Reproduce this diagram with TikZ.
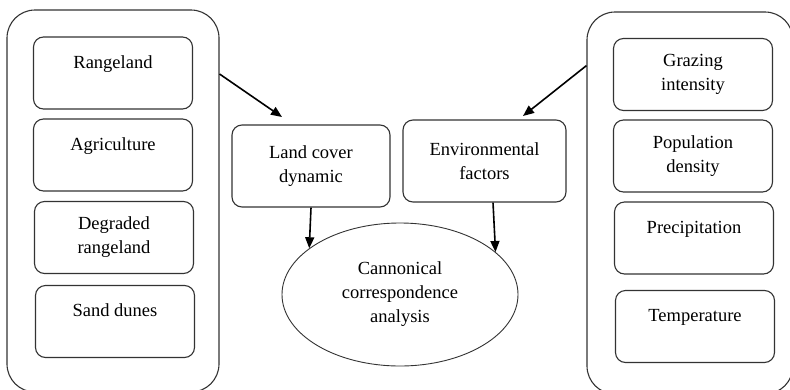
\documentclass[tikz,border=0pt]{standalone}
\usepackage{fontspec}
\setmainfont{Liberation Serif}
\usetikzlibrary{arrows.meta,shapes.geometric}

\tikzset{
	txt/.style={font=\fontsize{18.5pt}{24pt}\selectfont, align=center},
	box/.style={txt, draw=black!80, line width=1.1pt, rounded corners=10pt, inner sep=0pt, minimum width=159pt, minimum height=72pt},
	topbox/.style={box, text height=31pt, text depth=41pt},
	group/.style={draw=black!80, line width=1.1pt, rounded corners=28pt, inner sep=0pt},
	arr/.style={-{Triangle[length=11pt,width=9pt]}, line width=1.6pt},
}

\begin{document}
\begin{tikzpicture}[x=1pt,y=-1pt]
				\useasboundingbox (0,0) rectangle (790,389);
				
				\node[group, minimum width=212pt, minimum height=382pt] (covergrp) at (113,201) {};
				\node[group, minimum width=206pt, minimum height=382pt] (envgrp) at (690,203) {};
				
				\node[topbox] (range) at (113,73) {Rangeland};
				\node[topbox] (agri) at (113,155) {Agriculture};
				\node[box] (degr) at (114,237.5) {Degraded\\rangeland};
				\node[topbox] (sand) at (115,321.5) {Sand dunes};
				
				\node[box] (graz) at (693,74.5) {Grazing\\intensity};
				\node[box] (popd) at (693,156) {Population\\density};
				\node[topbox] (prec) at (694,238) {Precipitation};
				\node[topbox] (temp) at (695,326.5) {Temperature};
				
				\node[box, minimum width=158pt, minimum height=82pt] (land) at (311,166) {Land cover\\dynamic};
				\node[box, minimum width=163pt, minimum height=82pt] (env) at (484.5,161) {Environmental\\factors};
				
				\node[txt, draw=black!80, line width=0.9pt, ellipse, inner sep=0pt, minimum width=236pt, minimum height=143pt] (cca) at (400,294.5) {Cannonical\\correspondence\\analysis};
				
				\coordinate (landin) at (282,117);
				\coordinate (envin) at (523,116);
				
				\draw[arr] (covergrp.50) -- (landin);
				\draw[arr] (envgrp.127) -- (envin);
				\draw[arr] (land.south) -- (cca.153);
				\draw[arr] ([xshift=8.5pt]env.south) -- (cca.24);
			\end{tikzpicture}
\end{document}
